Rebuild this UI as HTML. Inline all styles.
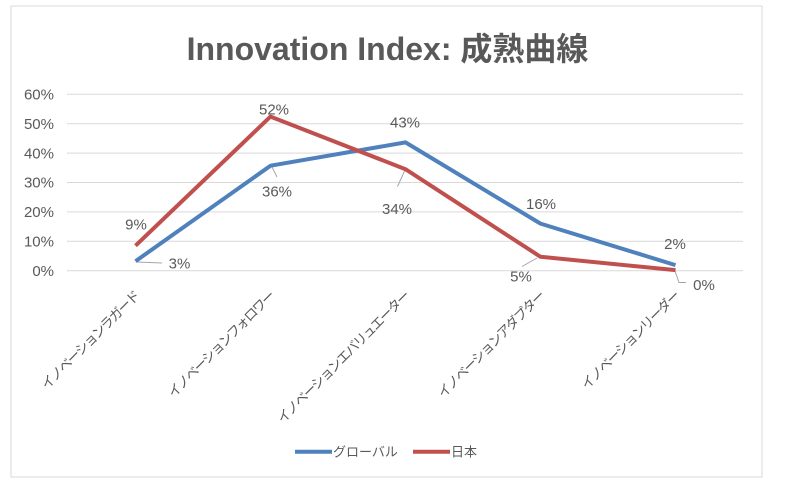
<!DOCTYPE html>
<html>
<head>
<meta charset="utf-8">
<style>
html,body{margin:0;padding:0;background:#fff;}
svg{display:block;}
text{font-family:"Liberation Sans","Noto Sans CJK JP",sans-serif;fill:#595959;}
</style>
</head>
<body>
<svg width="788" height="489" viewBox="0 0 788 489" xmlns="http://www.w3.org/2000/svg">
<rect x="0" y="0" width="788" height="489" fill="#fff"/>
<rect x="11" y="6" width="751" height="471" fill="#fff" stroke="#d9d9d9" stroke-width="1"/>
<text x="387.5" y="60" text-anchor="middle" font-size="32" font-weight="bold">Innovation Index: 成熟曲線</text>
<g stroke="#d9d9d9" stroke-width="1">
<line x1="67" y1="94.3" x2="743" y2="94.3"/>
<line x1="67" y1="123.7" x2="743" y2="123.7"/>
<line x1="67" y1="153.1" x2="743" y2="153.1"/>
<line x1="67" y1="182.5" x2="743" y2="182.5"/>
<line x1="67" y1="211.9" x2="743" y2="211.9"/>
<line x1="67" y1="241.3" x2="743" y2="241.3"/>
<line x1="67" y1="270.7" x2="743" y2="270.7"/>
</g>
<g font-size="15" text-anchor="end">
<text x="54" y="99.5">60%</text>
<text x="54" y="128.9">50%</text>
<text x="54" y="158.3">40%</text>
<text x="54" y="187.7">30%</text>
<text x="54" y="217.1">20%</text>
<text x="54" y="246.5">10%</text>
<text x="54" y="275.9">0%</text>
</g>
<g stroke="#a6a6a6" stroke-width="1" fill="none">
<line x1="137" y1="262" x2="162" y2="263"/>
<line x1="272" y1="167" x2="277" y2="177"/>
<line x1="405" y1="170" x2="397.5" y2="186.5"/>
<line x1="537" y1="258" x2="522" y2="266.5"/>
<polyline points="675,271 679,282.5 686,282.5"/>
</g>
<polyline points="135.5,261.2 270.5,165.7 405.5,142.4 540.5,223.6 675.5,265.1" fill="none" stroke="#4f81bd" stroke-width="4" stroke-linejoin="round"/>
<polyline points="135.5,245.7 270.5,116.6 405.5,169.2 540.5,256.8 675.5,270.1" fill="none" stroke="#c0504d" stroke-width="4" stroke-linejoin="round"/>
<g font-size="15" text-anchor="middle">
<text x="136" y="229.5">9%</text>
<text x="179.5" y="268.5">3%</text>
<text x="274" y="114.5">52%</text>
<text x="277" y="196.5">36%</text>
<text x="405" y="127.5">43%</text>
<text x="397" y="214">34%</text>
<text x="541" y="209">16%</text>
<text x="521" y="281.5">5%</text>
<text x="675" y="249">2%</text>
<text x="704" y="290">0%</text>
</g>
<g font-size="13.5" text-anchor="end" letter-spacing="-1.5">
<text transform="translate(140,297) rotate(-45)">イノベーションラガード</text>
<text transform="translate(275,297) rotate(-45)">イノベーションフォロワー</text>
<text transform="translate(410,297) rotate(-45)">イノベーションエバリュエーター</text>
<text transform="translate(545,297) rotate(-45)">イノベーションアダプター</text>
<text transform="translate(680,297) rotate(-45)">イノベーションリーダー</text>
</g>
<line x1="295" y1="451.7" x2="332" y2="451.7" stroke="#4f81bd" stroke-width="4"/>
<text x="333" y="456.5" font-size="13">グローバル</text>
<line x1="413" y1="451.7" x2="450" y2="451.7" stroke="#c0504d" stroke-width="4"/>
<text x="451" y="456.5" font-size="13">日本</text>
</svg>
</body>
</html>
